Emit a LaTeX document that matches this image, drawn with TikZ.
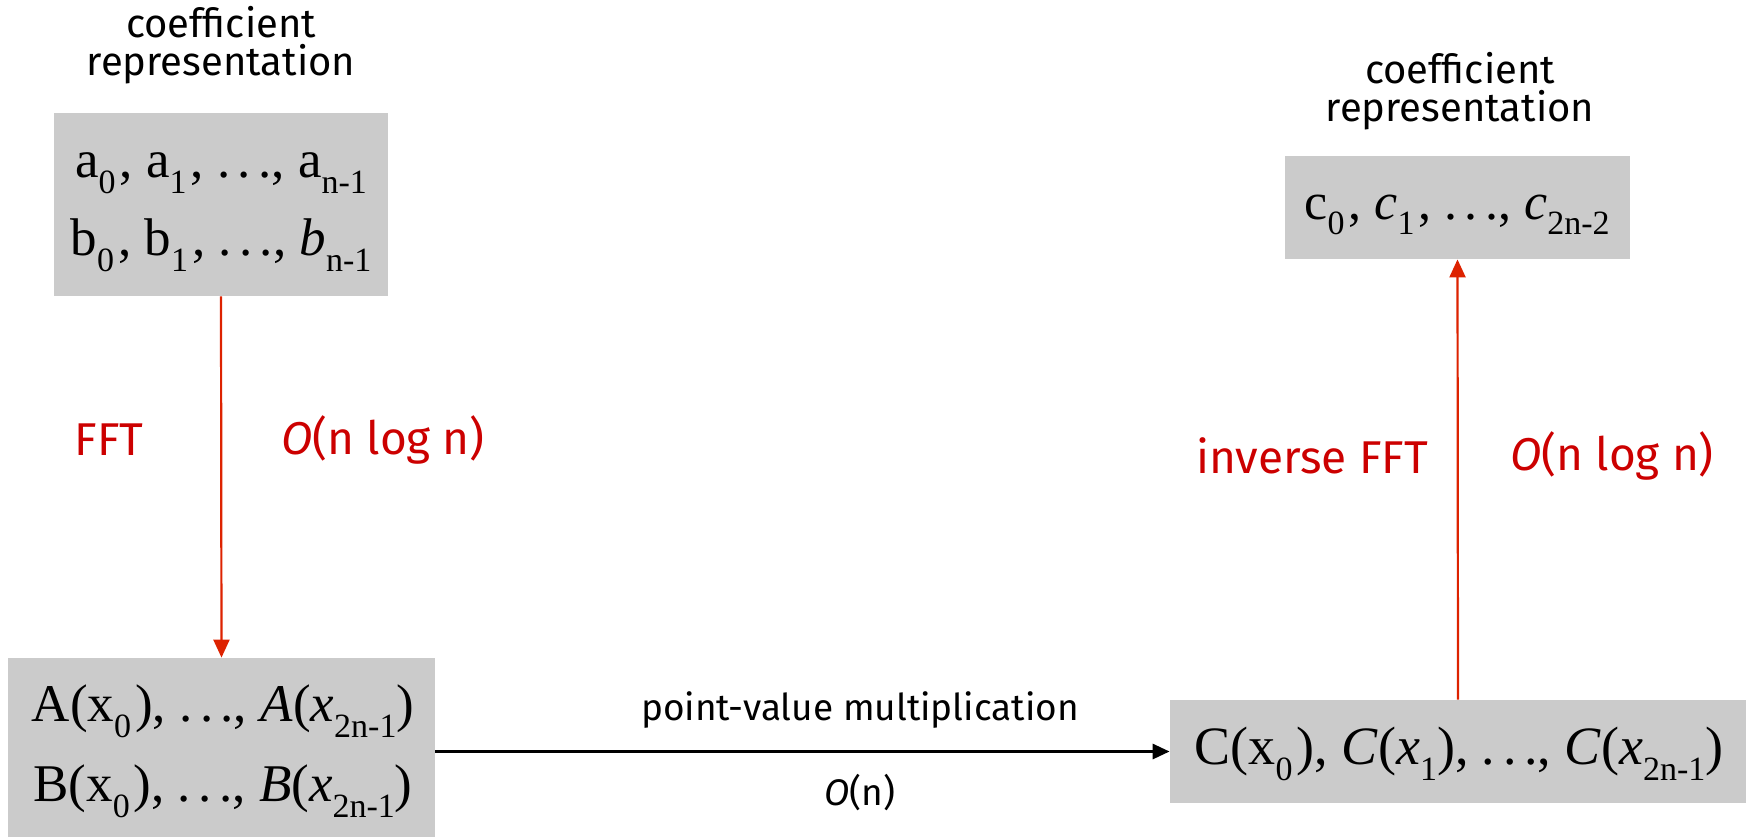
\documentclass[tikz,border=0pt]{standalone}
\usepackage{fontspec}
\setmainfont{Liberation Serif}
\newfontfamily\handfont{Fira Sans}
\usetikzlibrary{arrows.meta}
\definecolor{boxgray}{HTML}{CBCBCB}
\definecolor{arrred}{HTML}{DD2200}
\definecolor{txtred}{HTML}{CC0000}
\newcommand\lsub[1]{\raisebox{-0.3em}{\fontsize{17}{17}\selectfont #1}}
\newcommand\dts{.\kern0.14em.\kern0.14em.}
\tikzset{
  graybox/.style={fill=boxgray, inner sep=0pt, anchor=center, align=center},
  mathtxt/.style={font=\fontsize{26.5}{39}\selectfont, inner sep=0pt, align=center},
  hand/.style={font=\handfont\fontsize{20}{19}\selectfont, align=center, inner sep=0pt},
  redlabel/.style={font=\handfont\fontsize{23}{24}\selectfont, text=txtred, inner sep=0pt},
  redarrow/.style={draw=arrred, line width=1.1pt, -{Triangle[length=9pt,width=8pt]}},
  blackarrow/.style={draw=black, line width=1.5pt, -{Triangle[length=8.5pt,width=7.5pt]}},
}
\begin{document}
\begin{tikzpicture}[x=0.5pt, y=-0.5pt]
\useasboundingbox (0,0) rectangle (1746,837);
% boxes
\node[graybox, minimum width=167pt, minimum height=91.5pt] (A) at (221,204.5) {};
\node[graybox, minimum width=213.5pt, minimum height=89.5pt] (B) at (221.5,747.5) {};
\node[graybox, minimum width=288pt, minimum height=51.5pt] (C) at (1458,751.5) {};
\node[graybox, minimum width=172.5pt, minimum height=51.5pt] (D) at (1457.5,207.5) {};
% box texts
\node[mathtxt] (Atxt) at (221,212) {a\lsub{0}\kern2pt, a\lsub{1}\kern2pt, \dts, a\lsub{n-1}\\ b\lsub{0}\kern2pt, b\lsub{1}\kern2pt, \dts, \textit{b}\lsub{n-1}};
\node[mathtxt, font=\fontsize{26.5}{40}\selectfont] (Btxt) at (223,751) {A(x\lsub{0}\kern2pt), \dts, \textit{A}(\textit{x}\lsub{2n-1})\\ B(x\lsub{0}\kern2pt), \dts, \textit{B}(\textit{x}\lsub{2n-1})};
\node[mathtxt, font=\fontsize{27}{30}\selectfont] (Ctxt) at (1459,754) {C(x\lsub{0}\kern2pt), \textit{C}(\textit{x}\lsub{1}), \dts, \textit{C}(\textit{x}\lsub{2n-1})};
\node[mathtxt, font=\fontsize{26}{30}\selectfont] (Dtxt) at (1457,215) {c\lsub{0}\kern2pt, \textit{c}\lsub{1}\kern2pt, \dts, \textit{c}\lsub{2n-2}};
% captions
\node[hand] (capA) at (221,45) {coefficient\\representation};
\node[hand] (capD) at (1460,91) {coefficient\\representation};
% connectors
\draw[redarrow] (A.south) -- (B.north);
\draw[redarrow] (C.north) -- (D.south);
\draw[blackarrow] (B.east |- C.west) -- (C.west);
% labels
\node[redlabel] (fft) at (109,440) {FFT};
\node[redlabel] (cfft) at (383,440) {\textit{O}(n log n)};
\node[redlabel] (ifft) at (1312,456) {inverse FFT};
\node[redlabel] (cifft) at (1612,456) {\textit{O}(n log n)};
\node[hand, font=\handfont\fontsize{18.5}{19}\selectfont] (pv) at (860,710) {point-value multiplication};
\node[hand, font=\handfont\fontsize{18.5}{19}\selectfont] (on) at (860,793) {\textit{O}(n)};
\end{tikzpicture}
\end{document}
